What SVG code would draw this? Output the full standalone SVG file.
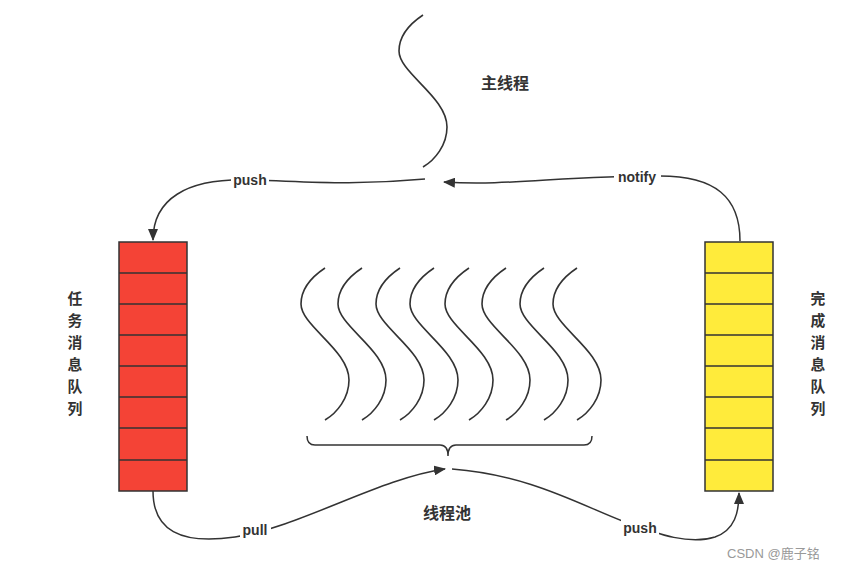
<svg xmlns="http://www.w3.org/2000/svg" xmlns:xlink="http://www.w3.org/1999/xlink" width="862" height="572" viewBox="0 0 862 572">
<style>
.ln{fill:none;stroke:#333;stroke-width:1.6}
.cn{fill:none;stroke:#333;stroke-width:1.5}
.red{fill:#f44336;stroke:#333;stroke-width:1.5}
.yel{fill:#ffeb3b;stroke:#333;stroke-width:1.5}
.zh{font-family:"Noto Sans CJK SC",sans-serif;font-weight:bold;font-size:16px;fill:#333;text-anchor:middle}
.vt{font-family:"Noto Sans CJK SC",sans-serif;font-weight:bold;font-size:14.8px;fill:#333;text-anchor:middle}
.lb{font-family:"Liberation Sans","Noto Sans",sans-serif;font-weight:bold;font-size:14px;fill:#333;text-anchor:middle}
.wm{font-family:"Liberation Sans","Noto Sans CJK SC",sans-serif;font-size:13px;fill:#999}
</style>
<defs>
<marker id="ah" markerWidth="12" markerHeight="10" refX="11" refY="5" orient="auto" markerUnits="userSpaceOnUse">
<path d="M0,0 L12,5 L0,10 Z" fill="#333"/>
</marker>
<path id="wave" d="M0,0 C-18,12 -24,25 -24,36 C-24,58 24,82 24,112 C24,130 12,145 0,152"/>
</defs>
<rect width="862" height="572" fill="#fff"/>

<g id="main-thread">
<use xlink:href="#wave" class="ln" transform="translate(423,15)"/>
<text class="zh" x="505" y="89">主线程</text>
</g>

<g id="task-queue">
<rect class="red" x="119" y="242" width="68" height="249"/>
<path class="cn" d="M119,273 H187 M119,304 H187 M119,335 H187 M119,366 H187 M119,397 H187 M119,428 H187 M119,460 H187"/>
<text class="vt" x="75"><tspan x="75" y="304">任</tspan><tspan x="75" y="326">务</tspan><tspan x="75" y="348">消</tspan><tspan x="75" y="370">息</tspan><tspan x="75" y="392">队</tspan><tspan x="75" y="414">列</tspan></text>
</g>

<g id="done-queue">
<rect class="yel" x="705" y="242" width="68" height="249"/>
<path class="cn" d="M705,273 H773 M705,304 H773 M705,335 H773 M705,366 H773 M705,397 H773 M705,428 H773 M705,460 H773"/>
<text class="vt" x="818"><tspan x="818" y="304">完</tspan><tspan x="818" y="326">成</tspan><tspan x="818" y="348">消</tspan><tspan x="818" y="370">息</tspan><tspan x="818" y="392">队</tspan><tspan x="818" y="414">列</tspan></text>
</g>

<g id="thread-pool">
<use xlink:href="#wave" class="ln" transform="translate(325,268)"/>
<use xlink:href="#wave" class="ln" transform="translate(362,268)"/>
<use xlink:href="#wave" class="ln" transform="translate(400,268)"/>
<use xlink:href="#wave" class="ln" transform="translate(434,268)"/>
<use xlink:href="#wave" class="ln" transform="translate(469,268)"/>
<use xlink:href="#wave" class="ln" transform="translate(506,268)"/>
<use xlink:href="#wave" class="ln" transform="translate(544,268)"/>
<use xlink:href="#wave" class="ln" transform="translate(577,268)"/>
<path class="cn" d="M307,436 Q307,445 315,445 L440,445 Q448,445 448,456 Q448,445 456,445 L584,445 Q592,445 592,436"/>
<text class="zh" x="447" y="519">线程池</text>
</g>

<g id="connectors">
<path class="cn" d="M425,179 C350,186 300,181 250,180 C185,178 153,200 153,240" marker-end="url(#ah)"/>
<path class="cn" d="M740,241 C740,197 715,176 660,176 C560,176 510,186 444,182" marker-end="url(#ah)"/>
<path class="cn" d="M153,491 C153,530 180,545 235,537 C300,527 380,478 445,469" marker-end="url(#ah)"/>
<path class="cn" d="M452,469 C530,475 580,505 625,522 C660,535 690,545 715,537 C735,530 739,512 739,493" marker-end="url(#ah)"/>
<rect x="231" y="171" width="38" height="17" fill="#fff"/>
<text class="lb" x="250" y="185">push</text>
<rect x="614" y="168" width="47" height="17" fill="#fff"/>
<text class="lb" x="637" y="182">notify</text>
<rect x="240" y="521" width="31" height="17" fill="#fff"/>
<text class="lb" x="255" y="535">pull</text>
<rect x="621" y="519" width="38" height="17" fill="#fff"/>
<text class="lb" x="640" y="533">push</text>
</g>

<text class="wm" x="727" y="558">CSDN @鹿子铭</text>
</svg>
